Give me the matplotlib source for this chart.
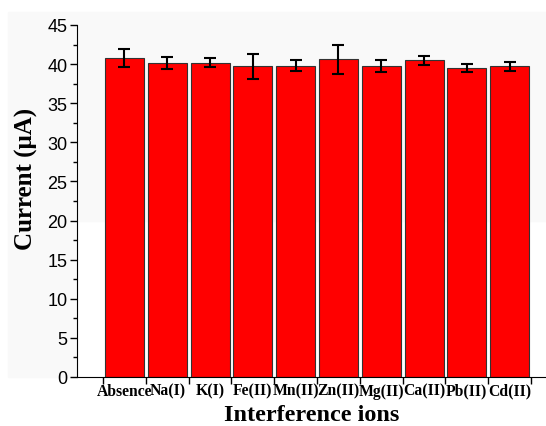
import numpy as np
import matplotlib.pyplot as plt
from matplotlib.patches import Rectangle

ions = ['Absence', 'Na(I)', 'K(I)', 'Fe(II)', 'Mn(II)', 'Zn(II)', 'Mg(II)', 'Ca(II)', 'Pb(II)', 'Cd(II)']
current = [40.8, 40.1, 40.2, 39.7, 39.8, 40.6, 39.8, 40.5, 39.5, 39.7]
err = [1.15, 0.75, 0.6, 1.65, 0.7, 1.85, 0.75, 0.6, 0.55, 0.6]

fig = plt.figure(figsize=(5.46, 4.27), dpi=100)
# faint grey screenshot background
fig.patches.append(Rectangle((8/546, 1-222/427), 1, (222-13)/427, transform=fig.transFigure,
                             color='#f9f9f9', zorder=-10))
fig.patches.append(Rectangle((8/546, 49/427), 69/546, (222-49)/427, transform=fig.transFigure,
                             color='#f9f9f9', zorder=-10))

ax = fig.add_axes([77/546, 49/427, 1-77/546, 352/427])
ax.patch.set_alpha(0)

ind = np.arange(len(ions))
ax.bar(ind, current, 0.91, color='#ff0000', edgecolor='#333333', linewidth=0.8,
       yerr=err, error_kw=dict(ecolor='black', elinewidth=1.5, capsize=4, capthick=1.5))

ax.set_ylim(0, 45)
ax.set_xlim(-1.11, 9.85)
ax.set_yticks(np.arange(0, 46, 5))
ax.set_yticks(np.arange(2.5, 45, 5), minor=True)
ax.set_xticks(ind)
ax.set_xticklabels(ions, fontfamily='Liberation Serif', fontweight='bold', fontsize=11.3)
ax.set_xticks(np.arange(-0.5, 10, 1), minor=True)
ax.tick_params(axis='x', which='major', length=0, pad=4)
ax.tick_params(axis='x', which='minor', length=5, width=1)
ax.tick_params(axis='y', which='major', length=5, width=1, labelsize=13, pad=2)
ax.tick_params(axis='y', which='minor', length=3, width=1)
for l in ax.get_yticklabels():
    l.set_fontfamily('Liberation Sans')

ax.spines['top'].set_visible(False)
ax.spines['right'].set_visible(False)

ax.set_ylabel('Current (μA)', fontfamily='Liberation Serif', fontweight='bold', fontsize=18, labelpad=2)
ax.yaxis.set_label_coords(-0.083, 0.565)
ax.set_xlabel('Interference ions', fontfamily='Liberation Serif', fontweight='bold', fontsize=17.5, labelpad=4)

plt.savefig('out.png', dpi=100)
